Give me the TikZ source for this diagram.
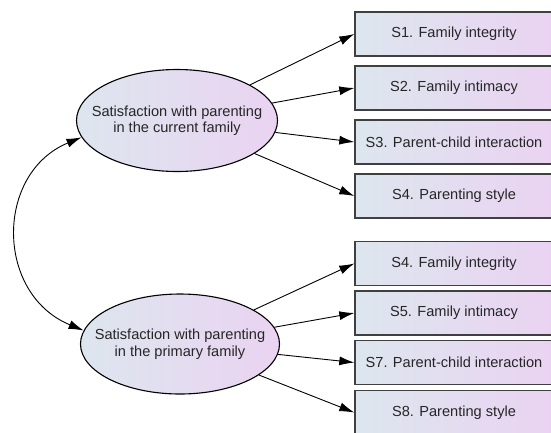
\documentclass[tikz,border=0pt]{standalone}
\usepackage{fontspec}
\setmainfont{Liberation Sans}
\usetikzlibrary{shapes.geometric,arrows.meta}
\definecolor{gl}{HTML}{DDE6EE}
\definecolor{gr}{HTML}{EAD3F2}
\begin{document}
\begin{tikzpicture}[x=1pt,y=-1pt,
  latent/.style={ellipse,draw=black,line width=1.1pt,left color=gl,right color=gr,
    minimum width=201pt,minimum height=102pt,inner xsep=-30pt,inner ysep=0pt,align=center,
    font=\fontsize{14.6pt}{16.5pt}\selectfont,text=black!85},
  indic/.style={rectangle,draw=black!75,line width=1.4pt,left color=gl,right color=gr,
    minimum width=198pt,minimum height=44pt,inner sep=0pt,
    font=\fontsize{14.6pt}{16pt}\selectfont,text=black!85},
  path/.style={line width=0.9pt,-{Latex[length=15pt,width=9pt]}},
  cov/.style={line width=0.9pt,{Latex[length=15pt,width=9pt]}-{Latex[length=15pt,width=9pt]}}]
\useasboundingbox (0,0) rectangle (551,432);
\clip (0,0) rectangle (551,432);
\fill[white] (0,0) rectangle (551,432);
\node[latent] (e1) at (177,120.5) {Satisfaction with parenting\\in the current family};
\node[latent,minimum width=199pt,minimum height=100pt] (e2) at (180,344) {Satisfaction with parenting\\in the primary family};
\node[indic] (b1) at (454,34) {S1. Family integrity};
\node[indic] (b2) at (454,88) {S2. Family intimacy};
\node[indic] (b3) at (454,142) {S3. Parent-child interaction};
\node[indic] (b4) at (454,196) {S4. Parenting style};
\node[indic] (c1) at (454,263.5) {S4. Family integrity};
\node[indic] (c2) at (454,313) {S5. Family intimacy};
\node[indic] (c3) at (454,362.5) {S7. Parent-child interaction};
\node[indic] (c4) at (454,412.5) {S8. Parenting style};
\foreach \b in {b1,b2,b3,b4} \draw[path] (e1) -- (\b.west);
\foreach \c in {c1,c2,c3,c4} \draw[path] (e2) -- (\c.west);
\draw[cov] (e1.190) .. controls (-5,173) and (-5,294) .. (e2.172);
\end{tikzpicture}
\end{document}
